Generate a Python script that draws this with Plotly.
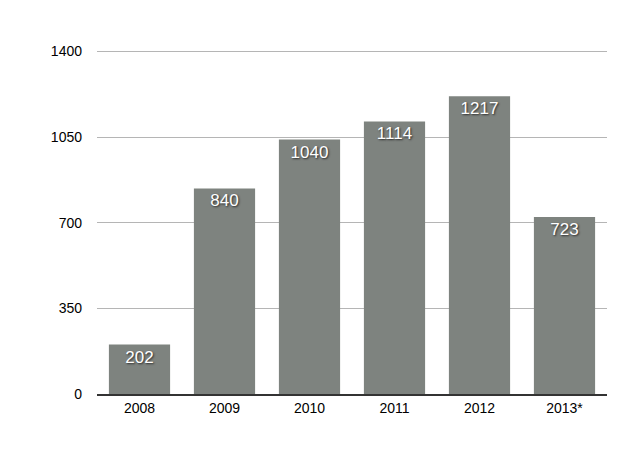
import plotly.graph_objects as go

years = ["2008", "2009", "2010", "2011", "2012", "2013*"]
counts = [202, 840, 1040, 1114, 1217, 723]
y_ticks = [0, 350, 700, 1050, 1400]

fig = go.Figure(go.Bar(
    x=years,
    y=counts,
    text=[str(c) for c in counts],
    textposition="inside",
    insidetextanchor="end",
    textangle=0,
    textfont=dict(color="white", size=17, family="Liberation Sans",
                  shadow="1px 1px 2px #2a2a2a"),
    marker=dict(color="#7e837f", line=dict(width=0)),
    width=0.72,
))

# the page body has an 8px margin, so margins are shifted by that
fig.update_layout(
    width=640, height=467,
    margin=dict(l=89, r=41, t=41, b=81),
    plot_bgcolor="white", paper_bgcolor="white",
    font=dict(family="Liberation Sans", size=14, color="black"),
    showlegend=False,
    bargap=0.28,
)
fig.update_xaxes(showline=True, linecolor="#333333", linewidth=2,
                 ticks="", showgrid=False)
# a little headroom so the 1400 gridline is drawn
fig.update_yaxes(range=[0, 1410], tickvals=y_ticks, showgrid=True,
                 gridcolor="#b5b5b5", gridwidth=1, zeroline=False,
                 ticks="", ticklabelstandoff=14)

fig.write_html("out.html")
